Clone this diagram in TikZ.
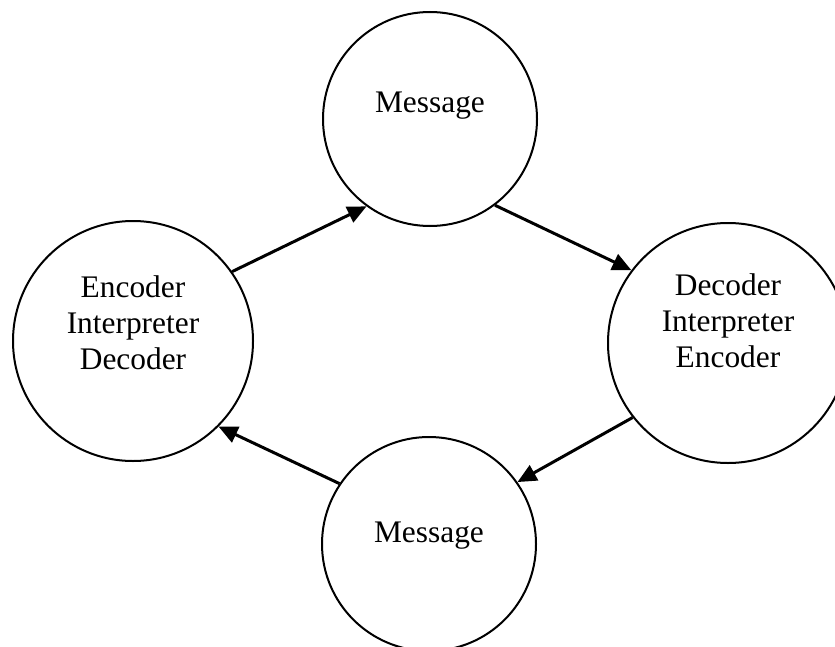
\documentclass[tikz,border=0pt]{standalone}
\usepackage{fontspec}
\setmainfont{Liberation Serif}
\usetikzlibrary{arrows.meta,calc}
\begin{document}
\begin{tikzpicture}[x=0.5pt,y=-0.5pt,
  bigcirc/.style={circle,draw,line width=1pt,minimum size=120pt,inner sep=0pt},
  smallcirc/.style={circle,draw,line width=1pt,minimum size=107pt,inner sep=0pt},
  lbl/.style={align=center,font=\fontsize{15.7}{18}\selectfont},
  flow/.style={line width=1.5pt,-{Triangle[length=9.5pt,width=8.5pt]}}]
\useasboundingbox (0,0) rectangle (835,647);
\node[smallcirc] (mtop) at (430,119) {};
\node[bigcirc] (left) at (133,341) {};
\node[bigcirc] (right) at (728,343) {};
\node[smallcirc] (mbot) at (429,544) {};
\node[lbl] (tmtop) at ($(mtop.center)+(0,-13)$) {Message};
\node[lbl] (tleft) at ($(left.center)+(0,-18)$) {Encoder\\Interpreter\\Decoder};
\node[lbl] (tright) at ($(right.center)+(0,-22)$) {Decoder\\Interpreter\\Encoder};
\node[lbl] (tmbot) at ($(mbot.center)+(0,-8)$) {Message};
\draw[flow] (left.35) -- (mtop.-126);
\draw[flow] (mtop.-53) -- (right.143);
\draw[flow] (right.218) -- (mbot.35);
\draw[flow] (mbot.146) -- (left.-45);
\end{tikzpicture}
\end{document}
